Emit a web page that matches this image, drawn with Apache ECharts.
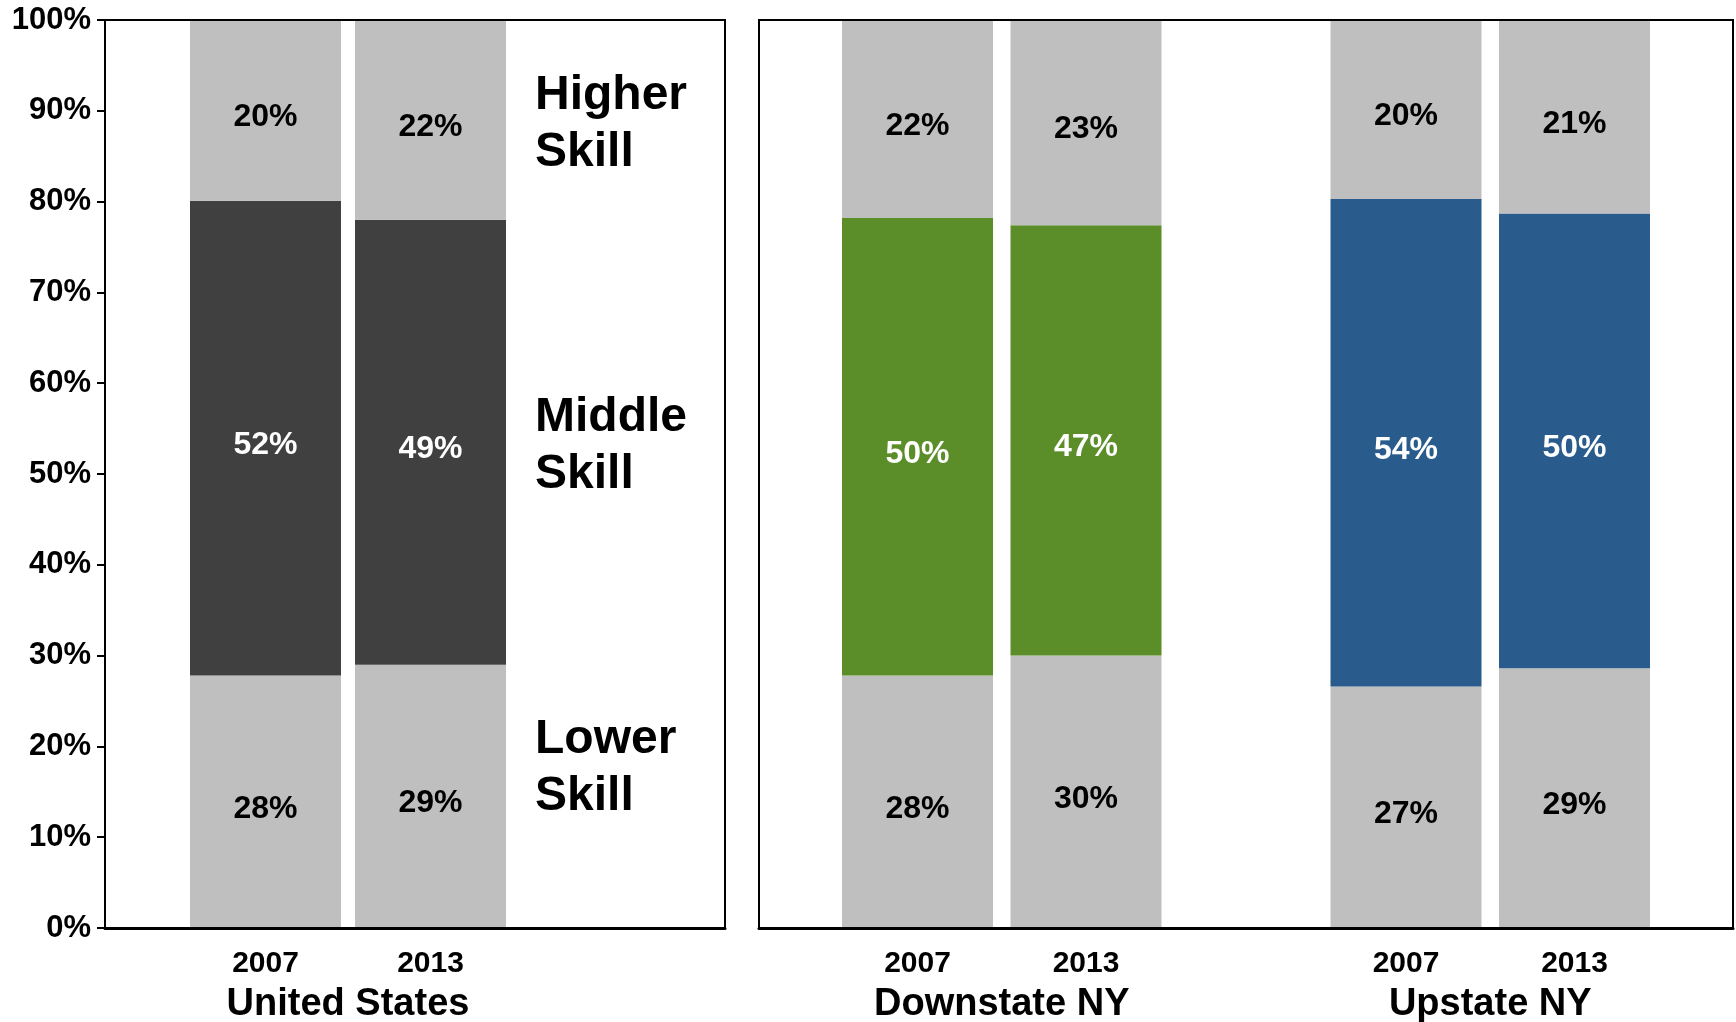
<!DOCTYPE html>
<html>
<head>
<meta charset="utf-8">
<script src="https://cdn.jsdelivr.net/npm/echarts@6/dist/echarts.min.js"></script>
<style>
html,body{margin:0;padding:0;background:#fff;}
#chart{width:1736px;height:1022px;}
</style>
</head>
<body>
<div id="chart"></div>
<script>
// ---- data ----
const years = ['2007', '2013'];
const groupNames = ['United States', 'Downstate NY', 'Upstate NY'];
const yTicks = [0, 10, 20, 30, 40, 50, 60, 70, 80, 90, 100];

const usLower = [27.8, 29.0];
const usMiddle = [52.3, 49.0];
const usHigher = [19.9, 22.0];

const downLower = [27.8, 30.0];
const downMiddle = [50.4, 47.4];
const downHigher = [21.8, 22.6];

const upLower = [26.6, 28.6];
const upMiddle = [53.7, 50.1];
const upHigher = [19.7, 21.3];

const skillLabels = ['Higher\nSkill', 'Middle\nSkill', 'Lower\nSkill'];

// ---- styles ----
const FONT = '"Liberation Sans", Arial, sans-serif';
const GRAY = '#BFBFBF';
const DARK = '#404040';
const GREEN = '#5B8E29';
const BLUE = '#295B8C';

const chart = echarts.init(document.getElementById('chart'), null, {renderer: 'canvas'});

const fmt = p => Math.round(p.value) + '%';
function seg(name, data, idx, color, labelColor) {
  return {
    name: name, type: 'bar', stack: 'g' + idx, xAxisIndex: idx + 2, yAxisIndex: idx + 2,
    data: data, barWidth: 151,
    itemStyle: {color: color},
    label: {show: true, position: 'inside', offset: [0, 7], formatter: fmt, color: labelColor,
            fontFamily: FONT, fontWeight: 'bold', fontSize: 32},
    emphasis: {disabled: true}
  };
}

const gridBase = {top: 20, height: 908, containLabel: false, outerBoundsMode: 'none'};
const grids = [
  Object.assign({left: 105, width: 620, show: true, borderColor: '#000', borderWidth: 2, z: 5}, gridBase),
  Object.assign({left: 759, width: 974, show: true, borderColor: '#000', borderWidth: 2, z: 5}, gridBase),
  Object.assign({left: 183, width: 330}, gridBase),
  Object.assign({left: 833.25, width: 337}, gridBase),
  Object.assign({left: 1321.75, width: 337}, gridBase)
];

const xAxes = [
  {gridIndex: 0, type: 'value', min: 0, max: 1, axisLine: {show: true, lineStyle: {color: '#000', width: 3}},
   axisTick: {show: false}, axisLabel: {show: false}, splitLine: {show: false}, z: 6},
  {gridIndex: 1, type: 'value', min: 0, max: 1, axisLine: {show: true, lineStyle: {color: '#000', width: 3}},
   axisTick: {show: false}, axisLabel: {show: false}, splitLine: {show: false}, z: 6}
];
const yAxes = [
  {gridIndex: 0, type: 'value', min: yTicks[0], max: yTicks[yTicks.length - 1], interval: 10,
   axisLine: {show: true, lineStyle: {color: '#000', width: 2}},
   axisTick: {show: true, length: 8, lineStyle: {color: '#000', width: 2}},
   axisLabel: {formatter: '{value}%', color: '#000', fontFamily: FONT, fontWeight: 'bold', fontSize: 31, margin: 14},
   splitLine: {show: false}, z: 6},
  {gridIndex: 1, type: 'value', min: 0, max: 100, show: false}
];
for (let i = 0; i < 3; i++) {
  xAxes.push({
    gridIndex: i + 2, type: 'category', data: years,
    axisLine: {show: false}, axisTick: {show: false},
    axisLabel: {color: '#000', fontFamily: FONT, fontWeight: 'bold', fontSize: 30, margin: 21},
    name: groupNames[i], nameLocation: 'middle', nameGap: 58,
    nameTextStyle: {color: '#000', fontFamily: FONT, fontWeight: 'bold', fontSize: 38}
  });
  yAxes.push({gridIndex: i + 2, type: 'value', min: 0, max: 100, show: false});
}

const series = [
  seg('Lower Skill', usLower, 0, GRAY, '#000'),
  seg('Middle Skill', usMiddle, 0, DARK, '#fff'),
  seg('Higher Skill', usHigher, 0, GRAY, '#000'),
  seg('Lower Skill', downLower, 1, GRAY, '#000'),
  seg('Middle Skill', downMiddle, 1, GREEN, '#fff'),
  seg('Higher Skill', downHigher, 1, GRAY, '#000'),
  seg('Lower Skill', upLower, 2, GRAY, '#000'),
  seg('Middle Skill', upMiddle, 2, BLUE, '#fff'),
  seg('Higher Skill', upHigher, 2, GRAY, '#000')
];

const annoCenters = [124.5, 446.5, 768];
const graphic = skillLabels.map((t, i) => ({
  type: 'text', left: 535, top: annoCenters[i] - 57,
  style: {text: t, fill: '#000', font: 'bold 48px ' + FONT, lineHeight: 57, textAlign: 'left'}
}));

chart.setOption({
  animation: false,
  backgroundColor: '#fff',
  grid: grids,
  xAxis: xAxes,
  yAxis: yAxes,
  series: series,
  graphic: graphic
});
</script>
</body>
</html>
